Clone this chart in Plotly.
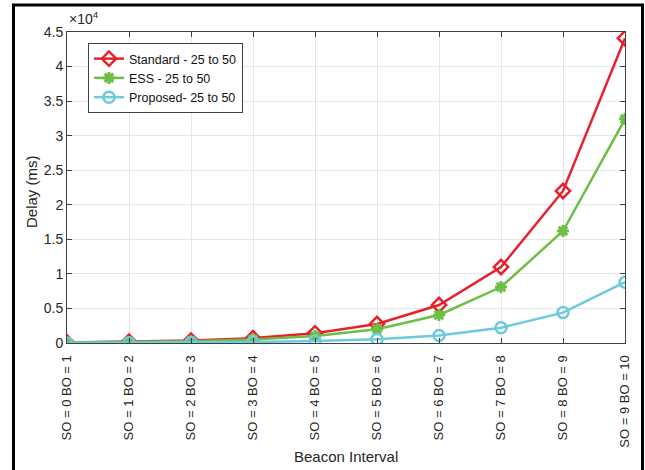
import plotly.graph_objects as go

categories = ["SO = 0 BO = 1", "SO = 1 BO = 2", "SO = 2 BO = 3", "SO = 3 BO = 4",
              "SO = 4 BO = 5", "SO = 5 BO = 6", "SO = 6 BO = 7", "SO = 7 BO = 8",
              "SO = 8 BO = 9", "SO = 9 BO = 10"]
standard = [90, 175, 350, 700, 1400, 2750, 5500, 11000, 22000, 44100]
ess = [63, 125, 250, 500, 1000, 2000, 4050, 8100, 16200, 32400]
proposed = [17, 35, 70, 140, 275, 550, 1100, 2200, 4400, 8800]
ytick_vals = [0, 5000, 10000, 15000, 20000, 25000, 30000, 35000, 40000, 45000]
ytick_text = ["0", "0.5", "1", "1.5", "2", "2.5", "3", "3.5", "4", "4.5"]

xs = list(range(1, 11))
font = "Liberation Sans, Arial, sans-serif"

fig = go.Figure()
fig.add_trace(go.Scatter(x=xs, y=standard, name="Standard - 25 to 50", mode="lines+markers",
                         line=dict(color="#E8202A", width=2.5),
                         marker=dict(symbol="diamond-open", size=11, color="#E8202A",
                                     line=dict(width=2.5, color="#E8202A"))))
fig.add_trace(go.Scatter(x=xs, y=ess, name="ESS - 25 to 50", mode="lines+markers",
                         line=dict(color="#6DBE45", width=2.5),
                         marker=dict(symbol="asterisk-open", size=10, color="#6DBE45",
                                     line=dict(width=3, color="#6DBE45"))))
fig.add_trace(go.Scatter(x=xs, y=proposed, name="Proposed- 25 to 50", mode="lines+markers",
                         line=dict(color="#6CCBDB", width=2.5),
                         marker=dict(symbol="circle-open", size=11, color="#6CCBDB",
                                     line=dict(width=2.5, color="#6CCBDB"))))

L, R, T, B = 67, 20, 32, 127
W, H = 645, 470
pw, ph = W - L - R, H - T - B

def px(x):
    return (x - L) / pw

def py(y):
    return (H - B - y) / ph

fig.add_shape(type="rect", xref="paper", yref="paper",
              x0=px(13.5), x1=px(642.5), y0=py(475), y1=py(5),
              line=dict(color="black", width=3), layer="below")

fig.add_annotation(text="×10<sup>4</sup>", xref="paper", yref="paper",
                   x=px(67), y=py(29), xanchor="left", yanchor="bottom",
                   showarrow=False, font=dict(family=font, size=14, color="#262626"))
fig.add_annotation(text="Beacon Interval", xref="paper", yref="paper",
                   x=px(346), y=py(456), xanchor="center", yanchor="middle",
                   showarrow=False, font=dict(family=font, size=15, color="#262626"))
fig.add_annotation(text="Delay (ms)", xref="paper", yref="paper",
                   x=px(31), y=py(192), xanchor="center", yanchor="middle", textangle=-90,
                   showarrow=False, font=dict(family=font, size=15, color="#262626"))

axis_common = dict(showline=True, linecolor="#404040", linewidth=1, mirror="ticks",
                   ticks="inside", ticklen=5, tickcolor="#404040",
                   showgrid=True, gridcolor="#E6E6E6", gridwidth=1, zeroline=False,
                   automargin=False,
                   tickfont=dict(family=font, size=14, color="#262626"))

fig.update_layout(
    width=W, height=H,
    margin=dict(l=L, r=R, t=T, b=B),
    paper_bgcolor="white", plot_bgcolor="white",
    showlegend=True,
    legend=dict(x=px(88), y=py(43), xanchor="left", yanchor="top",
                bgcolor="white", bordercolor="#404040", borderwidth=1,
                font=dict(family=font, size=12.5, color="#111111"),
                tracegroupgap=0, itemwidth=30),
    xaxis=dict(range=[1, 10], tickmode="array", tickvals=xs, ticktext=categories,
               tickangle=-90, ticklabelstandoff=6,
               tickfont=dict(family=font, size=13, color="#262626"),
               **{k: v for k, v in axis_common.items() if k != "tickfont"}),
    yaxis=dict(range=[0, 45000], tickmode="array", tickvals=ytick_vals, ticktext=ytick_text,
               **axis_common),
)

fig.write_html("out.html")
